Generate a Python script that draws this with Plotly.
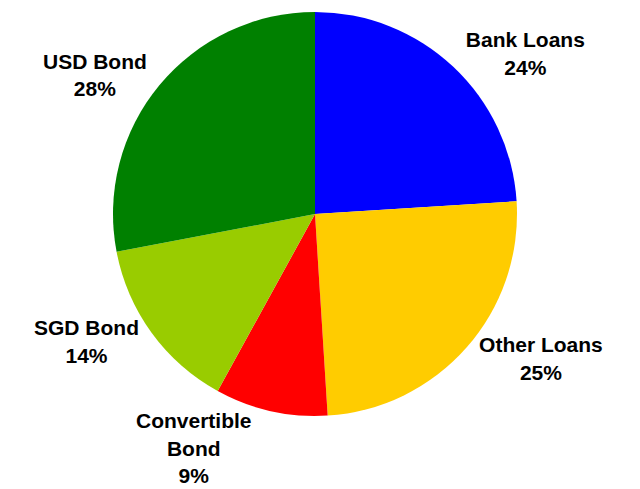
import plotly.graph_objects as go

labels = ["Bank Loans", "Other Loans", "Convertible<br>Bond", "SGD Bond", "USD Bond"]
values = [24, 25, 9, 14, 28]
colors = ["#0000FF", "#FFCC00", "#FF0000", "#99CC00", "#008000"]

fig = go.Figure(go.Pie(
    labels=labels,
    values=values,
    sort=False,
    direction="clockwise",
    rotation=0,
    marker=dict(colors=colors, line=dict(width=0)),
    textposition="outside",
    texttemplate="<b>%{label}<br>%{percent:.0%}</b>",
    textfont=dict(family="Liberation Sans, Arial", size=21, color="#000000"),
    automargin=False,
    showlegend=False,
    domain=dict(x=[105/640, 509/640], y=[1-408/489, 1-4/489]),
    hoverinfo="label+percent",
))
fig.update_layout(
    width=640, height=489,
    margin=dict(l=0, r=0, t=0, b=0),
    paper_bgcolor="white",
    plot_bgcolor="white",
)
fig.write_html("out.html")
